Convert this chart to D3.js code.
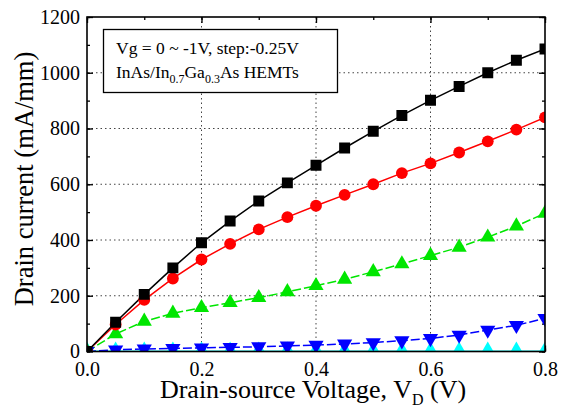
<!DOCTYPE html>
<html><head><meta charset="utf-8">
<script src="https://cdn.jsdelivr.net/npm/d3@7"></script>
<style>body{margin:0;background:#fff}svg{display:block}</style>
</head><body>
<svg id="c" width="572" height="417"></svg>
<script>
const vd = [0,0.05,0.1,0.15,0.2,0.25,0.3,0.35,0.4,0.45,0.5,0.55,0.6,0.65,0.7,0.75,0.8];
const id0    = [0,105,205,300,390,468,540,605,668,730,790,847,901,951,1000,1045,1085];
const id025  = [0,97,185,262,330,386,438,482,523,562,600,640,675,714,754,796,840];
const id05   = [0,63,108,137,157,175,193,214,236,259,286,314,344,374,410,450,496];
const id075  = [0,6,9,11,13,15,17,20,23,27,32,39,47,59,77,94,119];
const id1    = [0,0,0,0,0,0,0,0,0,0,0,0,0,0,0,0,0];
const series = [
  {name:"0V", vals:id0, color:"#000000", marker:"square", dash:null},
  {name:"-0.25V", vals:id025, color:"#ff0000", marker:"circle", dash:null},
  {name:"-0.5V", vals:id05, color:"#00e600", marker:"up", dash:"9,3"},
  {name:"-0.75V", vals:id075, color:"#0000ff", marker:"down", dash:"9,3"},
  {name:"-1V", vals:id1, color:"#00ffff", marker:"diamond", dash:null}
];
const xTicks = [0,0.2,0.4,0.6,0.8];
const yTicks = [0,200,400,600,800,1000,1200];

const svg = d3.select("#c");
const L=87,R=545,T=17,B=351.5;
const x = d3.scaleLinear().domain([0,0.8]).range([L,R]);
const y = d3.scaleLinear().domain([0,1200]).range([B,T]);
const serif = "'Liberation Serif','Times New Roman',serif";

svg.append("defs").append("clipPath").attr("id","clip")
  .append("rect").attr("x",L).attr("y",T).attr("width",R-L).attr("height",B-T);

// grid
const g = svg.append("g");
g.selectAll(".gy").data(yTicks.filter(v=>v>0&&v<1200)).join("line")
  .attr("x1",L).attr("x2",R).attr("y1",d=>y(d)).attr("y2",d=>y(d))
  .attr("stroke","#444").attr("stroke-width",1).attr("stroke-dasharray","1.5,3");
g.selectAll(".gx").data(xTicks.filter(v=>v>0&&v<0.8)).join("line")
  .attr("y1",T).attr("y2",B).attr("x1",d=>x(d)).attr("x2",d=>x(d))
  .attr("stroke","#444").attr("stroke-width",1).attr("stroke-dasharray","1.5,3");

// axes with inward ticks
function ax(axisFn, scale, ticks, minor, tf, transform, showLabels){
  const a = svg.append("g").attr("transform",transform);
  a.call(axisFn(scale).tickValues(minor).tickSize(-3).tickFormat(""));
  const b = svg.append("g").attr("transform",transform);
  b.call(axisFn(scale).tickValues(ticks).tickSize(-6).tickPadding(9).tickFormat(showLabels?tf:""));
  [a,b].forEach(s=>{s.select(".domain").remove(); s.selectAll("line").attr("stroke","#000").attr("stroke-width",1.3);});
  b.selectAll("text").attr("font-family",serif).attr("font-size",20).attr("fill","#000");
  return b;
}
const xMinor = d3.range(0,0.81,0.1);
const yMinor = d3.range(0,1201,100);
const bx = ax(d3.axisBottom, x, xTicks, xMinor, d3.format(".1f"), `translate(0,${B})`, true);
bx.selectAll("text").attr("dy",null).attr("y",24.5);
ax(d3.axisTop, x, xTicks, xMinor, null, `translate(0,${T})`, false);
const by = ax(d3.axisLeft, y, yTicks, yMinor, d3.format("d"), `translate(${L},0)`, true);
by.selectAll("text").attr("x",-7);
ax(d3.axisRight, y, yTicks, yMinor, null, `translate(${R},0)`, false);

// legend box
const box = svg.append("g");
box.append("rect").attr("x",103.5).attr("y",29.5).attr("width",234).attr("height",63)
  .attr("fill","#fff").attr("stroke","#000").attr("stroke-width",1.3);
box.append("text").attr("x",116).attr("y",54).attr("font-family",serif).attr("font-size",17.5)
  .text("Vg = 0 ~ -1V, step:-0.25V");
const t2 = box.append("text").attr("x",116).attr("y",78).attr("font-family",serif).attr("font-size",17.5);
t2.append("tspan").text("InAs/In");
t2.append("tspan").attr("font-size",12).attr("dy",5).text("0.7");
t2.append("tspan").attr("dy",-5).text("Ga");
t2.append("tspan").attr("font-size",12).attr("dy",5).text("0.3");
t2.append("tspan").attr("dy",-5).text("As HEMTs");

// series
const plot = svg.append("g").attr("clip-path","url(#clip)");
const line = d3.line().x((d,i)=>x(vd[i])).y(d=>y(d));
const sym = {square:d3.symbolSquare, circle:d3.symbolCircle, up:d3.symbolTriangle, diamond:d3.symbolDiamond};
const sizes = {square:120, circle:110, up:100, down:100, diamond:115};
series.slice().reverse().forEach(s=>{
  plot.append("path").datum(s.vals).attr("d",line).attr("fill","none")
    .attr("stroke",s.color).attr("stroke-width",s.marker==="diamond"?2:1.5)
    .attr("stroke-dasharray",s.dash);
});
series.slice().reverse().forEach(s=>{
  const shape = s.marker==="down"?d3.symbolTriangle:sym[s.marker];
  const rot = s.marker==="down"?" rotate(180)":"";
  plot.selectAll(null).data(s.vals).join("path")
    .attr("d",d3.symbol().type(shape).size(sizes[s.marker]))
    .attr("transform",(d,i)=>`translate(${x(vd[i])},${y(d)})${rot}`)
    .attr("fill",s.color);
});

// frame
svg.append("rect").attr("x",L).attr("y",T).attr("width",R-L).attr("height",B-T)
  .attr("fill","none").attr("stroke","#000").attr("stroke-width",1.6);

// axis titles
const xt = svg.append("text").attr("x",313).attr("y",397.5).attr("text-anchor","middle")
  .attr("font-family",serif).attr("font-size",26);
xt.append("tspan").text("Drain-source Voltage, V");
xt.append("tspan").attr("font-size",16).attr("dy",7).text("D");
xt.append("tspan").attr("dy",-7).text(" (V)");
svg.append("text").attr("transform",`translate(33,179) rotate(-90)`).attr("text-anchor","middle")
  .attr("font-family",serif).attr("font-size",26.5).text("Drain current (mA/mm)");
</script>
</body></html>
